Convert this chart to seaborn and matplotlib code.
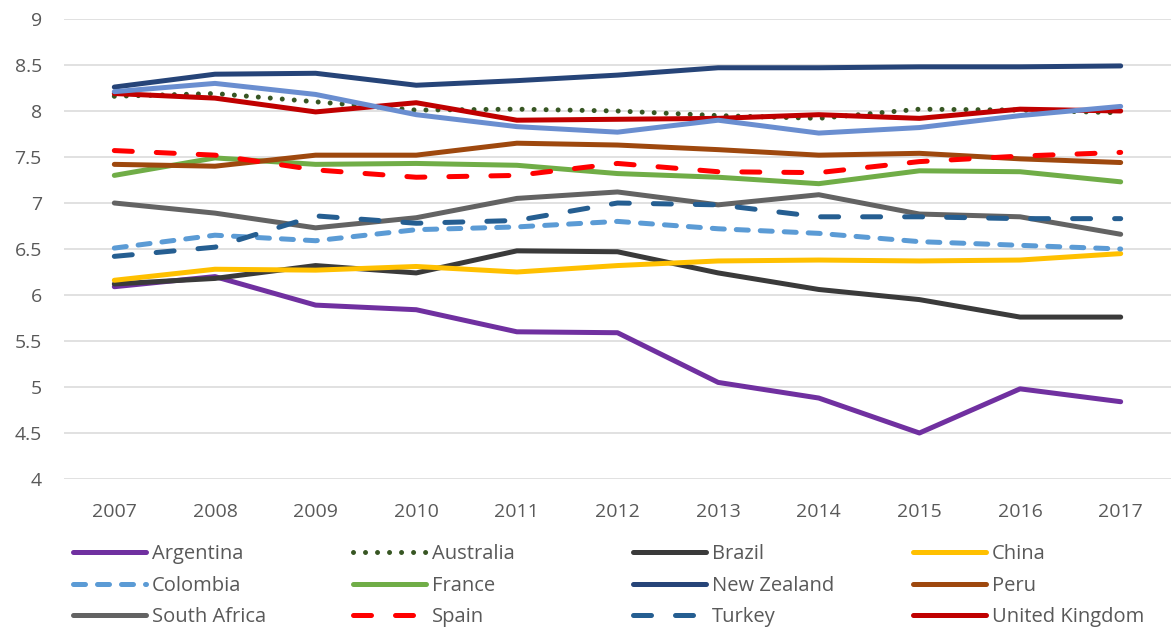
import matplotlib
matplotlib.use("Agg")
import matplotlib.pyplot as plt
import seaborn as sns
import pandas as pd

years = [2007, 2008, 2009, 2010, 2011, 2012, 2013, 2014, 2015, 2016, 2017]

argentina = [6.09, 6.20, 5.89, 5.84, 5.60, 5.59, 5.05, 4.88, 4.50, 4.98, 4.84]
australia = [8.16, 8.19, 8.10, 8.01, 8.02, 8.00, 7.95, 7.92, 8.02, 8.01, 7.98]
brazil = [6.12, 6.18, 6.32, 6.24, 6.48, 6.47, 6.24, 6.06, 5.95, 5.76, 5.76]
china = [6.16, 6.28, 6.27, 6.31, 6.25, 6.32, 6.37, 6.38, 6.37, 6.38, 6.45]
colombia = [6.51, 6.65, 6.59, 6.71, 6.74, 6.80, 6.72, 6.67, 6.58, 6.54, 6.50]
france = [7.30, 7.49, 7.42, 7.43, 7.41, 7.32, 7.28, 7.21, 7.35, 7.34, 7.23]
new_zealand = [8.26, 8.40, 8.41, 8.28, 8.33, 8.39, 8.47, 8.47, 8.48, 8.48, 8.49]
peru = [7.42, 7.40, 7.52, 7.52, 7.65, 7.63, 7.58, 7.52, 7.54, 7.48, 7.44]
south_africa = [7.00, 6.89, 6.73, 6.84, 7.05, 7.12, 6.98, 7.09, 6.88, 6.85, 6.66]
spain = [7.57, 7.52, 7.36, 7.28, 7.30, 7.43, 7.34, 7.33, 7.45, 7.51, 7.55]
turkey = [6.42, 6.52, 6.86, 6.78, 6.81, 7.00, 6.98, 6.85, 6.85, 6.83, 6.83]
united_kingdom = [8.19, 8.14, 7.99, 8.09, 7.90, 7.91, 7.92, 7.96, 7.92, 8.02, 8.00]
unnamed = [8.21, 8.30, 8.18, 7.96, 7.83, 7.77, 7.90, 7.76, 7.82, 7.95, 8.05]

y_ticks = [4, 4.5, 5, 5.5, 6, 6.5, 7, 7.5, 8, 8.5, 9]

W, H = 1171, 628
PT = 72 / 100  # points per pixel at 100 dpi
LW = 5 * PT

DOT = (0, (0.01, 12 * PT))
SQUARE = (0, (12 * PT, 12 * PT))
DASH = (0, (18 * PT, 24 * PT))

series = [
    ("Argentina", argentina, "#7030a0", None),
    ("Australia", australia, "#375623", DOT),
    ("Brazil", brazil, "#3a3a3a", None),
    ("China", china, "#ffc000", None),
    ("Colombia", colombia, "#5b9bd5", SQUARE),
    ("France", france, "#70ad47", None),
    ("New Zealand", new_zealand, "#264478", None),
    ("Peru", peru, "#9e480e", None),
    ("South Africa", south_africa, "#636363", None),
    ("Spain", spain, "#ff0000", DASH),
    ("Turkey", turkey, "#255e91", DASH),
    ("United Kingdom", united_kingdom, "#c00000", None),
    (None, unnamed, "#6a8ed0", None),
]

sns.set_theme(style="white")
plt.rcParams["font.family"] = ["Open Sans", "DejaVu Sans"]
plt.rcParams["lines.scale_dashes"] = False

fig = plt.figure(figsize=(W / 100, H / 100), dpi=100)
ax = fig.add_axes([64 / W, 1 - 479 / H, 1 - 64 / W, (479 - 19) / H])

handles = {}
for name, values, color, dash in series:
    df = pd.DataFrame({"year": years, "value": values})
    sns.lineplot(data=df, x="year", y="value", ax=ax, color=color, lw=LW,
                 legend=False)
    line = ax.lines[-1]
    line.set_solid_capstyle("round")
    line.set_solid_joinstyle("round")
    line.set_dash_capstyle("round")
    line.set_dash_joinstyle("round")
    if dash is not None:
        line.set_linestyle(dash)
    if name is not None:
        handles[name] = line

ax.set_xlim(2006.5, 2017.5)
ax.set_ylim(4, 9)
ax.set_xticks(years)
ax.set_xticklabels([str(y) for y in years])
ax.set_yticks(y_ticks)
ax.set_yticklabels([f"{t:g}" for t in y_ticks])
ax.set_xlabel("")
ax.set_ylabel("")
for s in ax.spines.values():
    s.set_visible(False)
ax.yaxis.grid(True, color="#d9d9d9", lw=1.1)
ax.xaxis.grid(False)
ax.set_axisbelow(True)
ax.tick_params(axis="both", length=0, labelsize=14, labelcolor="#595959")
ax.tick_params(axis="y", pad=16)
ax.tick_params(axis="x", pad=17)

# legend laid out as four evenly spaced columns, filled row by row
names = [n for n, *_ in series if n is not None]
col_x = [73, 353, 633, 913]
for c, x in enumerate(col_x):
    col_names = names[c::4]
    fig.legend([handles[n] for n in col_names], col_names,
               loc="upper left", bbox_to_anchor=(x / W, 1 - 544 / H),
               frameon=False, fontsize=14.5, handlelength=3.63,
               handletextpad=0.3, borderpad=0, borderaxespad=0,
               labelspacing=0.58, labelcolor="#595959")

fig.savefig("out.png", dpi=100)
